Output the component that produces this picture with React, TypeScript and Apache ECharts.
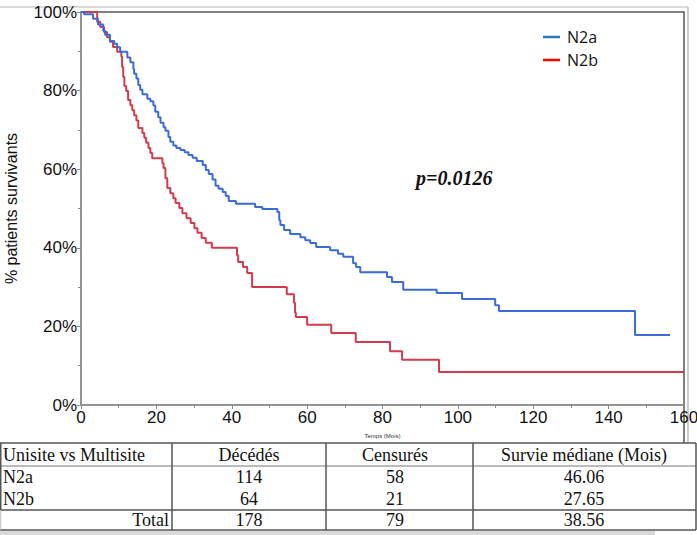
import { useEffect, useRef } from "react";
import * as echarts from "echarts";

// Kaplan-Meier steps (months, % survival from that time on)
const n2aMonths = [0, 0.8, 3.2, 4.5, 5.9, 6.4, 7.7, 8.8, 9.6, 10.4, 12.3, 13.1, 13.9, 14.1, 14.7, 15.2, 15.7, 16.3, 17.6, 18.4, 19.2, 19.7, 20.5, 21.1, 21.9, 22.4, 23.2, 23.7, 24.5, 25.3, 26.4, 27.5, 28.5, 29.6, 30.7, 32.3, 33.1, 33.9, 34.9, 35.7, 36.5, 37.6, 38.4, 39.2, 41.1, 46.2, 48.1, 52.1, 52.6, 52.9, 53.9, 55.5, 58.2, 59.5, 60.8, 62.4, 66.1, 68.2, 69.6, 72.2, 73.0, 74.1, 81.2, 82.5, 85.5, 94.4, 101.1, 109.9, 110.9, 147.0, 156.3];
const n2aSurvival = [100, 99.4, 98.3, 96.8, 95.2, 94.2, 92.6, 91.9, 91.0, 89.9, 88.4, 87.2, 85.5, 84.3, 83.1, 81.4, 80.2, 79.1, 77.9, 77.3, 76.2, 74.6, 73.2, 71.8, 70.7, 69.8, 68.2, 67.0, 66.0, 65.4, 64.9, 64.3, 63.6, 62.9, 62.1, 61.1, 59.8, 58.8, 57.4, 55.8, 55.0, 54.2, 53.2, 51.9, 51.2, 50.4, 49.9, 49.1, 47.0, 45.8, 44.5, 43.5, 42.7, 41.9, 41.2, 40.2, 39.4, 38.5, 37.7, 36.1, 35.1, 33.8, 32.6, 31.3, 29.3, 28.5, 27.0, 25.4, 23.9, 17.8, 17.8];

const n2bMonths = [0, 4.3, 5.1, 6.1, 6.9, 7.7, 8.5, 9.6, 10.7, 10.9, 11.2, 11.5, 12.0, 12.5, 13.1, 13.6, 14.1, 14.7, 15.2, 16.3, 16.8, 17.3, 17.9, 18.4, 18.9, 21.6, 21.9, 22.4, 22.9, 23.7, 24.5, 25.1, 26.1, 26.9, 28.0, 29.1, 30.1, 30.9, 32.0, 33.1, 34.7, 41.4, 41.7, 43.0, 44.1, 45.4, 54.6, 56.5, 56.8, 57.0, 60.0, 66.4, 72.9, 82.0, 85.2, 95.0, 160];
const n2bSurvival = [100, 97.5, 96.2, 94.9, 93.6, 92.4, 91.1, 89.9, 88.7, 86.0, 83.5, 81.2, 79.9, 77.6, 76.3, 75.0, 73.7, 72.4, 70.5, 69.2, 68.0, 66.7, 65.4, 64.1, 62.8, 61.5, 60.3, 57.7, 55.2, 53.9, 52.6, 51.4, 50.1, 48.8, 47.5, 46.3, 45.0, 43.8, 42.5, 41.3, 40.0, 38.1, 36.4, 35.1, 33.6, 30.0, 28.2, 26.0, 23.5, 22.4, 20.4, 18.3, 16.0, 13.7, 11.5, 8.4, 8.4];

const xTicks = [0, 20, 40, 60, 80, 100, 120, 140, 160];
const yTicks = [0, 20, 40, 60, 80, 100];

const tableHeader = ["Unisite vs Multisite", "Décédés", "Censurés", "Survie médiane (Mois)"];
const groups = ["N2a", "N2b", "Total"];
const deaths = [114, 64, 178];
const censored = [58, 21, 79];
const medians = ["46.06", "27.65", "38.56"];

const pValue = "p=0.0126";

export default function App() {
  const ref = useRef<HTMLDivElement>(null);
  useEffect(() => {
    const chart = echarts.init(ref.current!, null, { renderer: "svg" });
    const serif = "'Liberation Serif', 'Times New Roman', serif";
    const sans = "'Liberation Sans', Arial, sans-serif";
    const colX = [0, 172, 326, 473, 696];
    const colCenters = [0, 249, 395, 584];
    const rowY = [455, 477, 499, 520];
    const lineStroke = { stroke: "#555", lineWidth: 1.5 };
    const cellFont = `18px ${serif}`;

    const tableTexts: any[] = [];
    tableHeader.forEach((h, i) => {
      tableTexts.push({
        type: "text",
        x: i === 0 ? 3 : colCenters[i],
        y: rowY[0],
        style: { text: h, font: cellFont, fill: "#111", textAlign: i === 0 ? "left" : "center", textVerticalAlign: "middle" },
      });
    });
    groups.forEach((g, r) => {
      const isTotal = g === "Total";
      const cells = [g, String(deaths[r]), String(censored[r]), medians[r]];
      cells.forEach((c, i) => {
        tableTexts.push({
          type: "text",
          x: i === 0 ? (isTotal ? 169 : 3) : colCenters[i],
          y: rowY[r + 1],
          style: { text: c, font: cellFont, fill: "#111", textAlign: i === 0 ? (isTotal ? "right" : "left") : "center", textVerticalAlign: "middle" },
        });
      });
    });

    const tableLines: any[] = [
      { type: "line", shape: { x1: 0, y1: 443, x2: 696, y2: 443 }, style: lineStroke },
      { type: "line", shape: { x1: 0, y1: 466, x2: 696, y2: 466 }, style: { stroke: "#777", lineWidth: 1 } },
      { type: "line", shape: { x1: 0, y1: 510, x2: 696, y2: 510 }, style: lineStroke },
      { type: "line", shape: { x1: 0, y1: 530, x2: 696, y2: 530 }, style: lineStroke },
    ];
    colX.forEach((x, i) => {
      tableLines.push({
        type: "line",
        shape: { x1: i === 0 ? 0.75 : x, y1: 443, x2: i === 0 ? 0.75 : x, y2: i === 0 ? 510 : 530 },
        style: lineStroke,
      });
    });
    tableLines.push({ type: "line", shape: { x1: 0.75, y1: 510, x2: 0.75, y2: 530 }, style: { stroke: "#bbb", lineWidth: 1 } });

    chart.setOption({
      animation: false,
      backgroundColor: "#fff",
      grid: {
        left: 81, right: 13, top: 12, bottom: 130,
        containLabel: false, outerBoundsMode: "none",
        show: true, borderColor: "#555", borderWidth: 1.5, backgroundColor: "transparent",
      },
      legend: {
        orient: "vertical",
        left: 543,
        top: 29,
        padding: 0,
        itemGap: 7,
        itemWidth: 17,
        itemHeight: 2.5,
        textStyle: { fontFamily: "'Open Sans', 'Noto Sans', sans-serif", fontSize: 16, color: "#111", lineHeight: 16, padding: [0, 0, 0, 2] },
        data: [
          { name: "N2a", icon: "rect", itemStyle: { color: "#2E75B6" } },
          { name: "N2b", icon: "rect", itemStyle: { color: "#FF0000" } },
        ],
      },
      xAxis: {
        type: "value",
        min: xTicks[0],
        max: xTicks[xTicks.length - 1],
        interval: 20,
        name: "Temps (Mois)",
        nameLocation: "middle",
        nameGap: 28,
        nameTextStyle: { fontSize: 6, color: "#333", fontFamily: sans },
        axisLine: { show: true, lineStyle: { color: "#999", width: 1.5 } },
        axisTick: { show: true, length: 4, lineStyle: { color: "#888" } },
        minorTick: { show: true, splitNumber: 2, length: 3, lineStyle: { color: "#888" } },
        splitLine: { show: false },
        axisLabel: { fontSize: 17, color: "#111", fontFamily: sans, margin: 4, showMaxLabel: true },
      },
      yAxis: {
        type: "value",
        min: yTicks[0],
        max: yTicks[yTicks.length - 1],
        interval: 20,
        name: "% patients survivants",
        nameLocation: "middle",
        nameGap: 62,
        nameTextStyle: { fontSize: 16, color: "#111", fontFamily: sans },
        axisLine: { show: true, lineStyle: { color: "#999", width: 1.5 } },
        axisTick: { show: true, length: 4, lineStyle: { color: "#888" } },
        minorTick: { show: true, splitNumber: 2, length: 3, lineStyle: { color: "#888" } },
        splitLine: { show: false },
        axisLabel: { fontSize: 17, color: "#111", fontFamily: sans, margin: 4, formatter: "{value}%" },
      },
      series: [
        {
          name: "N2a",
          type: "line",
          step: "end",
          showSymbol: false,
          symbol: "none",
          data: n2aMonths.map((t, i) => [t, n2aSurvival[i]]),
          lineStyle: { color: "#3a6bd6", width: 2 },
          itemStyle: { color: "#3a6bd6" },
          z: 3,
        },
        {
          name: "N2b",
          type: "line",
          step: "end",
          showSymbol: false,
          symbol: "none",
          data: n2bMonths.map((t, i) => [t, n2bSurvival[i]]),
          lineStyle: { color: "#d23a4e", width: 2 },
          itemStyle: { color: "#d23a4e" },
          z: 2,
        },
      ],
      graphic: [
        { type: "line", shape: { x1: 0, y1: 7, x2: 688, y2: 7 }, style: { stroke: "#cfcfcf", lineWidth: 1.5 } },
        { type: "line", shape: { x1: 688, y1: 7, x2: 688, y2: 443 }, style: { stroke: "#bbb", lineWidth: 1.5 } },
        { type: "line", shape: { x1: 684, y1: 405, x2: 684, y2: 443 }, style: { stroke: "#555", lineWidth: 1.5 } },
        {
          type: "text",
          x: 416,
          y: 178,
          style: { text: pValue, font: `italic bold 20px ${serif}`, fill: "#111", textAlign: "left", textVerticalAlign: "middle" },
        },
        ...tableLines,
        ...tableTexts,
        { type: "rect", shape: { x: 0, y: 531, width: 655, height: 4 }, style: { fill: "#d9d9d9" } },
      ],
    });
    return () => chart.dispose();
  }, []);
  return <div ref={ref} style={{ position: "absolute", left: 0, top: 0, width: 697, height: 535 }} />;
}
